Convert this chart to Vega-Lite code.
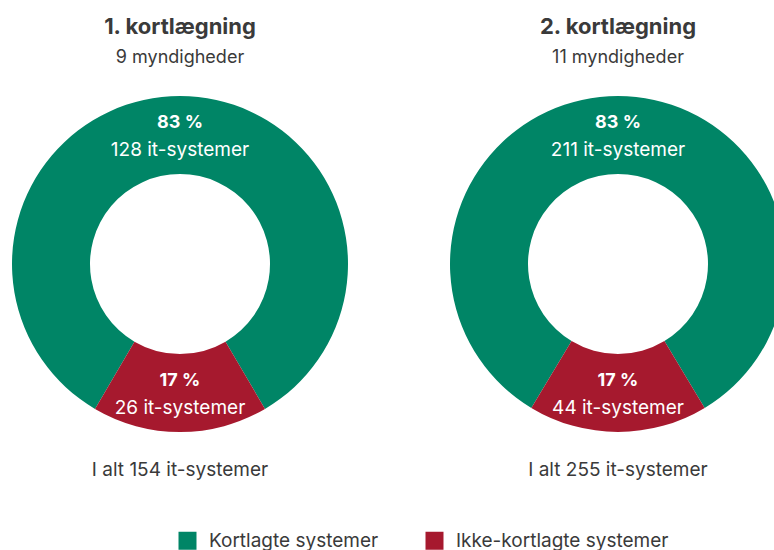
{
  "$schema": "https://vega.github.io/schema/vega-lite/v6.json",
  "padding": {"top": 16, "left": 0, "right": 0, "bottom": 0},
  "background": "white",
  "config": {
    "view": {"stroke": null},
    "font": "Inter",
    "title": {"anchor": "middle", "fontSize": 22, "fontWeight": "bold", "color": "#3a3a3a", "subtitleFontSize": 18, "subtitleColor": "#3a3a3a", "subtitlePadding": 10, "offset": 6}
  },
  "data": {"values": [
    {"k": 1, "type": "Kortlagte systemer", "antal": 128, "pct": "83 %", "label": "128 it-systemer", "total": "I alt 154 it-systemer"},
    {"k": 1, "type": "Ikke-kortlagte systemer", "antal": 26, "pct": "17 %", "label": "26 it-systemer", "total": "I alt 154 it-systemer"},
    {"k": 2, "type": "Kortlagte systemer", "antal": 211, "pct": "83 %", "label": "211 it-systemer", "total": "I alt 255 it-systemer"},
    {"k": 2, "type": "Ikke-kortlagte systemer", "antal": 44, "pct": "17 %", "label": "44 it-systemer", "total": "I alt 255 it-systemer"}
  ]},
  "spacing": 78,
  "resolve": {"scale": {"theta": "independent", "color": "shared"}},
  "hconcat": [
    {
      "width": 360, "height": 380,
      "title": {"text": "1. kortlægning", "subtitle": "9 myndigheder"},
      "transform": [{"filter": "datum.k === 1"}],
      "layer": [
        {
          "mark": {"type": "arc", "innerRadius": 90, "outerRadius": 168},
          "encoding": {
            "theta": {"field": "antal", "type": "quantitative", "stack": true, "scale": {"range": [2.6112, 8.89439]}},
            "order": {"field": "type", "sort": "ascending"},
            "color": {"field": "type", "type": "nominal",
              "scale": {"domain": ["Kortlagte systemer", "Ikke-kortlagte systemer"], "range": ["#008566", "#a6192e"]},
              "legend": {"orient": "none", "legendX": 178, "legendY": 457, "direction": "horizontal", "title": null, "symbolType": "square", "symbolSize": 324, "symbolStrokeWidth": 0, "labelFontSize": 19, "labelColor": "#3a3a3a", "labelOffset": 12, "columnPadding": 46, "labelLimit": 400}}
          }
        },
        {
          "mark": {"type": "text", "radius": 129, "dy": -12, "fontSize": 18, "fontWeight": "bold", "color": "white"},
          "encoding": {
            "theta": {"field": "antal", "type": "quantitative", "stack": true},
            "order": {"field": "type", "sort": "ascending"},
            "detail": {"field": "type"},
            "text": {"field": "pct"}
          }
        },
        {
          "mark": {"type": "text", "radius": 129, "dy": 15, "fontSize": 19, "color": "white"},
          "encoding": {
            "theta": {"field": "antal", "type": "quantitative", "stack": true},
            "order": {"field": "type", "sort": "ascending"},
            "detail": {"field": "type"},
            "text": {"field": "label"}
          }
        },
        {
          "transform": [{"filter": "datum.type === 'Kortlagte systemer'"}],
          "mark": {"type": "text", "theta": 3.14159, "radius": 206, "fontSize": 19, "color": "#3a3a3a"},
          "encoding": {"text": {"field": "total"}}
        }
      ]
    },
    {
      "width": 360, "height": 380,
      "title": {"text": "2. kortlægning", "subtitle": "11 myndigheder"},
      "transform": [{"filter": "datum.k === 2"}],
      "layer": [
        {
          "mark": {"type": "arc", "innerRadius": 90, "outerRadius": 168},
          "encoding": {
            "theta": {"field": "antal", "type": "quantitative", "stack": true, "scale": {"range": [2.59951, 8.8827]}},
            "order": {"field": "type", "sort": "ascending"},
            "color": {"field": "type", "type": "nominal"}
          }
        },
        {
          "mark": {"type": "text", "radius": 129, "dy": -12, "fontSize": 18, "fontWeight": "bold", "color": "white"},
          "encoding": {
            "theta": {"field": "antal", "type": "quantitative", "stack": true},
            "order": {"field": "type", "sort": "ascending"},
            "detail": {"field": "type"},
            "text": {"field": "pct"}
          }
        },
        {
          "mark": {"type": "text", "radius": 129, "dy": 15, "fontSize": 19, "color": "white"},
          "encoding": {
            "theta": {"field": "antal", "type": "quantitative", "stack": true},
            "order": {"field": "type", "sort": "ascending"},
            "detail": {"field": "type"},
            "text": {"field": "label"}
          }
        },
        {
          "transform": [{"filter": "datum.type === 'Kortlagte systemer'"}],
          "mark": {"type": "text", "theta": 3.14159, "radius": 206, "fontSize": 19, "color": "#3a3a3a"},
          "encoding": {"text": {"field": "total"}}
        }
      ]
    }
  ]
}
